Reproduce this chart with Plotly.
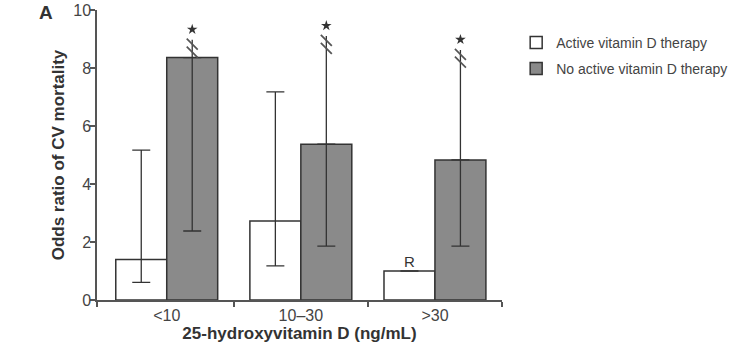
import plotly.graph_objects as go

# ---------------- data ----------------
categories = ["<10", "10–30", ">30"]
cat_index = [0, 1, 2]

active_or = [1.40, 2.72, 1.00]
active_ci_lo = [0.61, 1.18, None]
active_ci_hi = [5.17, 7.18, None]

no_active_or = [8.36, 5.37, 4.83]
no_active_ci_lo = [2.38, 1.86, 1.86]
no_active_ci_hi_shown = [8.97, 9.10, 8.62]   # upper CI is truncated (axis break)

y_ticks = [0, 2, 4, 6, 8, 10]

# ---------------- styling constants ----------------
BAR_W = 0.38
FONT = "Liberation Sans, Arial, sans-serif"
DARK = "#333333"
AXIS = "#555555"
GREY_FILL = "#8a8a8a"

active_x = [i - BAR_W / 2 for i in cat_index]
no_active_x = [i + BAR_W / 2 for i in cat_index]

def diff(a, b):
    return [None if (x is None or y is None) else round(x - y, 4) for x, y in zip(a, b)]

fig = go.Figure()

fig.add_trace(go.Bar(
    x=cat_index, y=active_or, width=BAR_W, offset=-BAR_W,
    name="Active vitamin D therapy",
    marker=dict(color="white", line=dict(color=DARK, width=1.5)),
    error_y=dict(type="data", symmetric=False,
                 array=diff(active_ci_hi, active_or),
                 arrayminus=diff(active_or, active_ci_lo),
                 color=DARK, thickness=1.3, width=9),
    legendgroup="a",
))

fig.add_trace(go.Bar(
    x=cat_index, y=no_active_or, width=BAR_W, offset=0,
    name="No active vitamin D therapy",
    marker=dict(color=GREY_FILL, line=dict(color=DARK, width=1.5)),
    error_y=dict(type="data", symmetric=False,
                 array=[0 for _ in no_active_or],
                 arrayminus=diff(no_active_or, no_active_ci_lo),
                 color=DARK, thickness=1.3, width=9),
    legendgroup="b",
))

# upper (truncated) whiskers of the no-active bars
wx, wy = [], []
for x, lo, hi in zip(no_active_x, no_active_or, no_active_ci_hi_shown):
    wx += [x, x, None]
    wy += [lo, hi, None]
fig.add_trace(go.Scatter(x=wx, y=wy, mode="lines",
                         line=dict(color=DARK, width=1.3),
                         showlegend=False, hoverinfo="skip"))

# axis-break marks (double slash)
bx, by = [], []
for x, hi in zip(no_active_x, no_active_ci_hi_shown):
    bx += [x, x]
    by += [hi - 0.15, hi - 0.42]
fig.add_trace(go.Scatter(x=bx, y=by, mode="markers",
                         marker=dict(symbol="line-nw", size=11,
                                     line=dict(color=AXIS, width=1.7)),
                         showlegend=False, hoverinfo="skip"))

# significance stars
fig.add_trace(go.Scatter(x=no_active_x, y=[h + 0.36 for h in no_active_ci_hi_shown],
                         mode="markers",
                         marker=dict(symbol="star", size=8, color=DARK),
                         showlegend=False, hoverinfo="skip"))

# reference group label
fig.add_trace(go.Scatter(x=[active_x[2]], y=[active_or[2]], mode="text",
                         text=["R"], textposition="top center",
                         textfont=dict(family=FONT, size=15, color=DARK),
                         showlegend=False, hoverinfo="skip"))

fig.update_layout(
    width=746, height=360,
    margin=dict(l=97, r=244, t=10, b=60),
    paper_bgcolor="white", plot_bgcolor="white",
    font=dict(family=FONT, color=DARK),
    barmode="overlay",
    legend=dict(x=1.035, y=0.942, xanchor="left", yanchor="top",
                font=dict(family=FONT, size=14, color="#444444"),
                tracegroupgap=5, bgcolor="rgba(0,0,0,0)"),
    annotations=[dict(text="A", xref="paper", yref="paper", x=-0.125, y=0.99,
                      showarrow=False, xanchor="center", yanchor="middle",
                      font=dict(family=FONT, size=19, color=DARK, weight="bold"))],
)

fig.update_xaxes(
    range=[-0.52, 2.5], tickmode="array", tickvals=cat_index, ticktext=categories,
    ticks="", showgrid=False, zeroline=False, automargin=False,
    showline=True, linecolor=AXIS, linewidth=1.5,
    tickfont=dict(family=FONT, size=16, color="#444444"),
    minor=dict(tickmode="array", tickvals=[-0.52, 0.5, 1.5, 2.5],
               ticks="outside", ticklen=5, tickwidth=1.5, tickcolor=AXIS, showgrid=False),
    title=dict(text="25-hydroxyvitamin D (ng/mL)", standoff=2,
               font=dict(family=FONT, size=17, color=DARK, weight="bold")),
)
fig.update_yaxes(
    range=[0, 10], tickmode="array", tickvals=y_ticks,
    ticks="outside", ticklen=5, tickwidth=1.5, tickcolor=AXIS,
    showgrid=False, zeroline=False, automargin=False,
    ticklabelstandoff=-4,
    showline=True, linecolor=AXIS, linewidth=1.5,
    tickfont=dict(family=FONT, size=16, color="#444444"),
    title=dict(text="Odds ratio of CV mortality", standoff=4,
               font=dict(family=FONT, size=17, color=DARK, weight="bold")),
)

fig.write_html("out.html", config={"displayModeBar": False},
               post_script="document.body.style.margin='0';")
